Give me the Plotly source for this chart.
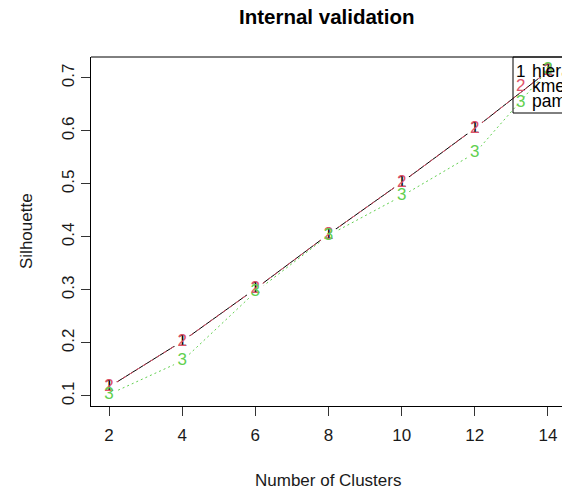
import plotly.graph_objects as go

# Silhouette width by number of clusters for each clustering method
clusters = [2, 4, 6, 8, 10, 12, 14]
hierarchical = [0.117, 0.203, 0.302, 0.405, 0.503, 0.605, 0.713]
kmeans = [0.117, 0.203, 0.302, 0.405, 0.503, 0.605, 0.713]
pam = [0.103, 0.166, 0.296, 0.403, 0.477, 0.558, 0.715]

methods = ["hierarchical", "kmeans", "pam"]
series = [hierarchical, kmeans, pam]
symbols = ["1", "2", "3"]
colors = ["#000000", "#DF536B", "#61D04F"]
dashes = ["solid", "4px,4px", "2px,3px"]

x_ticks = [2, 4, 6, 8, 10, 12, 14]
y_ticks = [0.1, 0.2, 0.3, 0.4, 0.5, 0.6, 0.7]

W, H = 562, 490
L, R, T, B = 91, 0, 57, 84
PW, PH = W - L - R, H - T - B
FONT = "Liberation Sans, Arial, sans-serif"


def px_x(px):
    return (px - L) / PW


def px_y(py):
    return (H - B - py) / PH


fig = go.Figure()

# connecting lines
for vals, col, dash in zip(series, colors, dashes):
    fig.add_trace(go.Scatter(
        x=clusters, y=vals, mode="lines",
        line=dict(color=col, width=1, dash=dash),
        hoverinfo="skip", showlegend=False,
    ))

# white gaps around each plotted symbol (type = "b" style)
for vals in series:
    fig.add_trace(go.Scatter(
        x=clusters, y=vals, mode="markers",
        marker=dict(color="white", size=18, line=dict(width=0)),
        hoverinfo="skip", showlegend=False,
    ))

# numbered point symbols
for vals, sym, col in zip(series, symbols, colors):
    fig.add_trace(go.Scatter(
        x=clusters, y=vals, mode="text",
        text=[sym] * len(clusters), textposition="middle center",
        textfont=dict(family=FONT, size=17, color=col),
        hoverinfo="skip", showlegend=False, cliponaxis=False,
    ))

shapes = [
    # top border of the plot box
    dict(type="line", xref="paper", yref="paper", x0=0, x1=1.05, y0=1, y1=1,
         line=dict(color="black", width=1)),
    # legend box
    dict(type="rect", xref="paper", yref="paper",
         x0=px_x(513), x1=1.2, y0=px_y(113), y1=1,
         line=dict(color="black", width=1), fillcolor="rgba(0,0,0,0)",
         layer="above"),
]

annotations = [
    dict(text="<b>Internal validation</b>", xref="paper", yref="paper",
         x=px_x(326), y=px_y(16), xanchor="center", yanchor="middle",
         showarrow=False, font=dict(family=FONT, size=20.5, color="black")),
    dict(text="Number of Clusters", xref="paper", yref="paper",
         x=px_x(328), y=px_y(480), xanchor="center", yanchor="middle",
         showarrow=False, font=dict(family=FONT, size=17, color="#1a1a1a")),
    dict(text="Silhouette", xref="paper", yref="paper",
         x=px_x(26), y=px_y(231), xanchor="center", yanchor="middle",
         textangle=-90, showarrow=False,
         font=dict(family=FONT, size=17, color="#1a1a1a")),
]

legend_rows = [71, 86, 101]
for name, sym, col, row in zip(methods, symbols, colors, legend_rows):
    annotations.append(dict(
        text=sym, xref="paper", yref="paper", x=px_x(520), y=px_y(row),
        xanchor="center", yanchor="middle", showarrow=False,
        font=dict(family=FONT, size=17, color=col)))
    annotations.append(dict(
        text=name, xref="paper", yref="paper", x=px_x(530), y=px_y(row),
        xanchor="left", yanchor="middle", showarrow=False,
        font=dict(family=FONT, size=17.5, color="black")))

fig.update_layout(
    width=W, height=H,
    margin=dict(l=L, r=R, t=T, b=B, pad=0),
    paper_bgcolor="white", plot_bgcolor="white",
    font=dict(family=FONT, size=17, color="#1a1a1a"),
    showlegend=False,
    shapes=shapes,
    annotations=annotations,
    xaxis=dict(
        range=[2 - 18 / 36.58, 2 - 18 / 36.58 + PW / 36.58],
        tickvals=x_ticks, ticktext=[str(v) for v in x_ticks],
        ticks="outside", ticklen=9, tickwidth=1, tickcolor="#333",
        showline=True, linecolor="black", linewidth=1,
        showgrid=False, zeroline=False,
        ticklabelstandoff=5,
        tickfont=dict(family=FONT, size=17, color="#1a1a1a"),
    ),
    yaxis=dict(
        range=[0.081, 0.7396],
        tickvals=y_ticks, ticktext=[f"{v:.1f}" for v in y_ticks],
        ticks="outside", ticklen=9, tickwidth=1, tickcolor="#333",
        showline=True, linecolor="black", linewidth=1,
        showgrid=False, zeroline=False, tickangle=-90,
        ticklabelstandoff=0,
        tickfont=dict(family=FONT, size=17, color="#1a1a1a"),
    ),
)

fig.write_html("out.html")
